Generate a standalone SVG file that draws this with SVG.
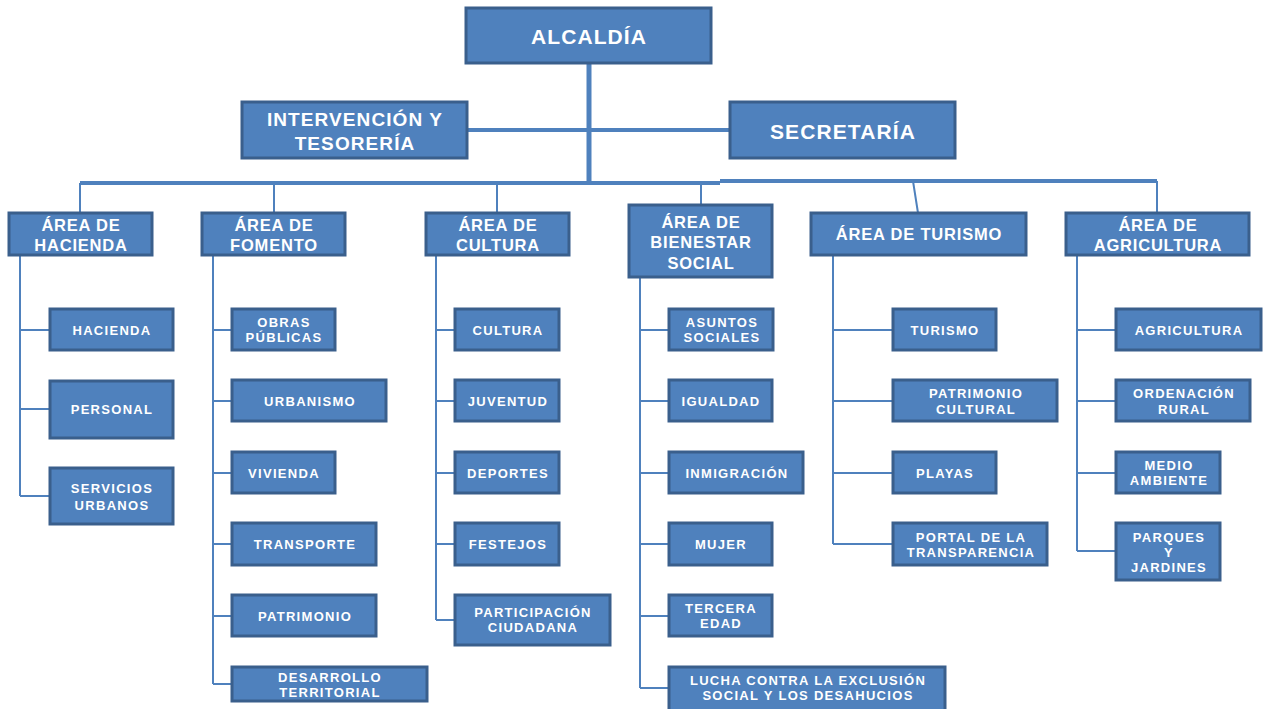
<svg xmlns="http://www.w3.org/2000/svg" width="1267" height="709" viewBox="0 0 1267 709">
<style>
.b{fill:#4F81BD;stroke:#3A5F8C;stroke-width:3}
text{font-family:"Liberation Sans",Arial,sans-serif;font-weight:bold;fill:#fff;text-anchor:middle;dominant-baseline:central}
.t1{font-size:21px;letter-spacing:1.1px}
.t2{font-size:19px;letter-spacing:1.1px}
.t3{font-size:16.5px;letter-spacing:0.8px}
.t4{font-size:13px;letter-spacing:1.3px}
.c path{fill:none;stroke:#4F81BD}
.thick{stroke-width:5}
.mid{stroke-width:4}
.thin{stroke-width:2}
</style>
<rect width="1267" height="709" fill="#fff"/>
<g class="c" id="connectors">
<path class="thick" d="M589,63V183"/>
<path class="mid" d="M467,130H730"/>
<path class="mid" d="M80,183H720M720,181H1157"/>
<path class="thin" d="M80,183V213M274,183V213M497,183V213M701,183V205M913,181L918,213M1157,181V213"/>
<path class="thin" d="M20,255V496M20,330H50M20,409H50M20,496H50"/>
<path class="thin" d="M213,255V684M213,330H232M213,401H232M213,473H232M213,544H232M213,616H232M213,684H232"/>
<path class="thin" d="M436,255V620M436,330H455M436,401H455M436,473H455M436,544H455M436,620H455"/>
<path class="thin" d="M640,277V688M640,330H669M640,401H669M640,473H669M640,544H669M640,616H669M640,688H669"/>
<path class="thin" d="M833,255V544M833,330H893M833,401H893M833,473H893M833,544H893"/>
<path class="thin" d="M1077,255V551M1077,330H1116M1077,401H1116M1077,473H1116M1077,551H1116"/>
</g>
<g id="alcaldia"><rect class="b" x="466" y="8" width="245" height="55"/><text class="t1" x="589" y="36">ALCALDÍA</text></g>
<g id="intervencion"><rect class="b" x="242" y="102" width="225" height="56"/><text class="t2" x="355" y="119">INTERVENCIÓN Y</text><text class="t2" x="355" y="143">TESORERÍA</text></g>
<g id="secretaria"><rect class="b" x="730" y="102" width="225" height="56"/><text class="t1" x="843" y="131">SECRETARÍA</text></g>

<g id="area-hacienda"><rect class="b" x="9" y="213" width="143" height="42"/><text class="t3" x="81" y="225">ÁREA DE</text><text class="t3" x="81" y="245">HACIENDA</text></g>
<g id="area-fomento"><rect class="b" x="202" y="213" width="143" height="42"/><text class="t3" x="274" y="225">ÁREA DE</text><text class="t3" x="274" y="245">FOMENTO</text></g>
<g id="area-cultura"><rect class="b" x="426" y="213" width="143" height="42"/><text class="t3" x="498" y="225">ÁREA DE</text><text class="t3" x="498" y="245">CULTURA</text></g>
<g id="area-bienestar"><rect class="b" x="629" y="205" width="143" height="72"/><text class="t3" x="701" y="222">ÁREA DE</text><text class="t3" x="701" y="242">BIENESTAR</text><text class="t3" x="701" y="263">SOCIAL</text></g>
<g id="area-turismo"><rect class="b" x="811" y="213" width="215" height="42"/><text class="t3" x="919" y="234">ÁREA DE TURISMO</text></g>
<g id="area-agricultura"><rect class="b" x="1066" y="213" width="183" height="42"/><text class="t3" x="1158" y="225">ÁREA DE</text><text class="t3" x="1158" y="245">AGRICULTURA</text></g>

<g id="hacienda"><rect class="b" x="50" y="309" width="123" height="41"/><text class="t4" x="112" y="330">HACIENDA</text></g>
<g id="personal"><rect class="b" x="50" y="381" width="123" height="57"/><text class="t4" x="112" y="409">PERSONAL</text></g>
<g id="servicios"><rect class="b" x="50" y="468" width="123" height="56"/><text class="t4" x="112" y="488">SERVICIOS</text><text class="t4" x="112" y="505">URBANOS</text></g>

<g id="obras"><rect class="b" x="232" y="309" width="103" height="41"/><text class="t4" x="284" y="322">OBRAS</text><text class="t4" x="284" y="337">PÚBLICAS</text></g>
<g id="urbanismo"><rect class="b" x="232" y="380" width="154" height="41"/><text class="t4" x="310" y="401">URBANISMO</text></g>
<g id="vivienda"><rect class="b" x="232" y="452" width="103" height="41"/><text class="t4" x="284" y="473">VIVIENDA</text></g>
<g id="transporte"><rect class="b" x="232" y="523" width="144" height="42"/><text class="t4" x="305" y="544">TRANSPORTE</text></g>
<g id="patrimonio"><rect class="b" x="232" y="595" width="144" height="41"/><text class="t4" x="305" y="616">PATRIMONIO</text></g>
<g id="desarrollo"><rect class="b" x="232" y="667" width="195" height="34"/><text class="t4" x="330" y="677">DESARROLLO</text><text class="t4" x="330" y="692">TERRITORIAL</text></g>

<g id="cultura"><rect class="b" x="455" y="309" width="104" height="41"/><text class="t4" x="508" y="330">CULTURA</text></g>
<g id="juventud"><rect class="b" x="455" y="380" width="104" height="41"/><text class="t4" x="508" y="401">JUVENTUD</text></g>
<g id="deportes"><rect class="b" x="455" y="452" width="104" height="41"/><text class="t4" x="508" y="473">DEPORTES</text></g>
<g id="festejos"><rect class="b" x="455" y="523" width="104" height="42"/><text class="t4" x="508" y="544">FESTEJOS</text></g>
<g id="participacion"><rect class="b" x="455" y="595" width="155" height="50"/><text class="t4" x="533" y="612">PARTICIPACIÓN</text><text class="t4" x="533" y="627">CIUDADANA</text></g>

<g id="asuntos"><rect class="b" x="669" y="309" width="104" height="41"/><text class="t4" x="722" y="322">ASUNTOS</text><text class="t4" x="722" y="337">SOCIALES</text></g>
<g id="igualdad"><rect class="b" x="669" y="380" width="103" height="41"/><text class="t4" x="721" y="401">IGUALDAD</text></g>
<g id="inmigracion"><rect class="b" x="669" y="452" width="134" height="41"/><text class="t4" x="737" y="473">INMIGRACIÓN</text></g>
<g id="mujer"><rect class="b" x="669" y="523" width="103" height="42"/><text class="t4" x="721" y="544">MUJER</text></g>
<g id="tercera"><rect class="b" x="669" y="595" width="103" height="41"/><text class="t4" x="721" y="608">TERCERA</text><text class="t4" x="721" y="623">EDAD</text></g>
<g id="lucha"><rect class="b" x="669" y="667" width="276" height="45"/><text class="t4" x="808" y="680">LUCHA CONTRA LA EXCLUSIÓN</text><text class="t4" x="808" y="695">SOCIAL Y LOS DESAHUCIOS</text></g>

<g id="turismo"><rect class="b" x="893" y="309" width="103" height="41"/><text class="t4" x="945" y="330">TURISMO</text></g>
<g id="patrimonio-cultural"><rect class="b" x="893" y="380" width="164" height="41"/><text class="t4" x="976" y="393">PATRIMONIO</text><text class="t4" x="976" y="409">CULTURAL</text></g>
<g id="playas"><rect class="b" x="893" y="452" width="103" height="41"/><text class="t4" x="945" y="473">PLAYAS</text></g>
<g id="portal"><rect class="b" x="893" y="523" width="154" height="42"/><text class="t4" x="971" y="537">PORTAL DE LA</text><text class="t4" x="971" y="552">TRANSPARENCIA</text></g>

<g id="agricultura"><rect class="b" x="1116" y="309" width="145" height="41"/><text class="t4" x="1189" y="330">AGRICULTURA</text></g>
<g id="ordenacion"><rect class="b" x="1116" y="380" width="134" height="41"/><text class="t4" x="1184" y="393">ORDENACIÓN</text><text class="t4" x="1184" y="409">RURAL</text></g>
<g id="medio"><rect class="b" x="1116" y="452" width="104" height="41"/><text class="t4" x="1169" y="465">MEDIO</text><text class="t4" x="1169" y="480">AMBIENTE</text></g>
<g id="parques"><rect class="b" x="1116" y="523" width="104" height="57"/><text class="t4" x="1169" y="537">PARQUES</text><text class="t4" x="1169" y="552">Y</text><text class="t4" x="1169" y="567">JARDINES</text></g>
</svg>
